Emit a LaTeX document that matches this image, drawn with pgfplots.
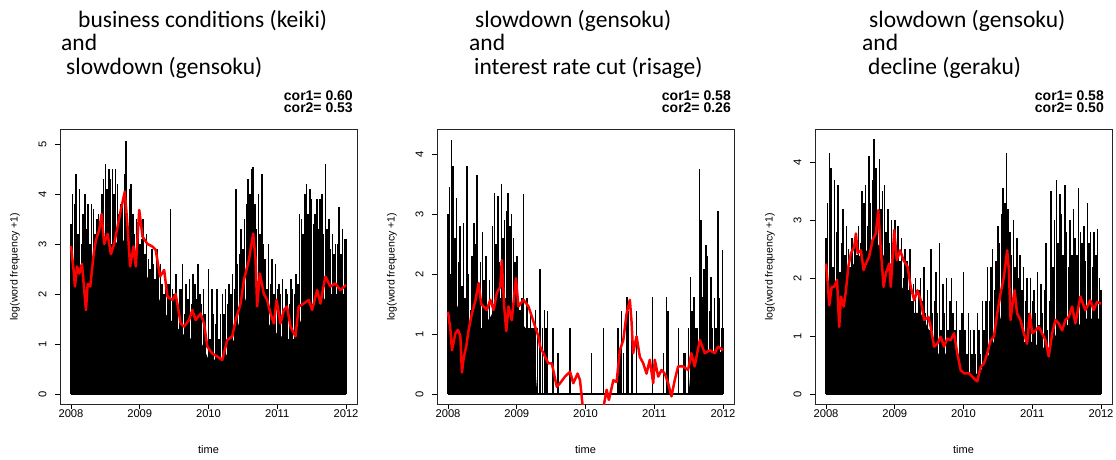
\documentclass[border=0pt]{standalone}
\usepackage{fontspec}
\setmainfont{Liberation Sans}
\newfontfamily\titlefont{Carlito}
\usepackage{pgfplots}
\usepackage{pgfplotstable}
\pgfplotsset{compat=1.18}

% x = week index (0.025 year steps): 0 = 2008, 160 = 2012
\pgfplotstableread[row sep=\\]{x y\\
0 2.4\\ 5 2.6\\ 10 2.4\\ 15 2.8\\ 20 3.0\\ 25 3.0\\ 30 3.1\\ 35 2.8\\ 40 2.6\\ 45 2.3\\ 50 2.0\\ 55 1.6\\ 60 1.4\\ 65 1.2\\ 70 1.1\\ 75 1.1\\ 80 0.69\\ 85 0.69\\ 90 0.75\\ 95 1.1\\ 100 1.7\\ 105 2.3\\ 110 2.0\\ 115 1.4\\ 120 1.2\\ 125 1.1\\ 130 1.1\\ 135 1.6\\ 140 1.8\\ 145 1.8\\ 150 2.0\\ 155 2.0\\ 160 2.0\\
}\coreA
\pgfplotstableread[row sep=\\]{x y\\
0 3.4\\ 1 4.0\\ 2 3.8\\ 3 4.4\\ 4 3.2\\ 5 4.1\\ 6 3.0\\ 7 3.6\\ 8 4.0\\ 9 3.3\\ 10 3.8\\ 11 3.0\\ 12 3.8\\ 13 3.7\\ 14 3.2\\ 15 3.5\\ 16 3.6\\ 17 3.4\\ 18 4.0\\ 19 4.3\\ 20 4.6\\ 21 4.1\\ 22 4.5\\ 23 4.3\\ 24 4.5\\ 25 4.0\\ 26 4.5\\ 27 4.2\\ 28 3.6\\ 29 3.8\\ 30 3.9\\ 31 4.4\\ 32 5.07\\ 33 3.5\\ 34 4.1\\ 35 4.2\\ 36 3.6\\ 37 3.2\\ 38 3.5\\ 39 3.3\\ 40 3.0\\
41 3.1\\ 42 3.5\\ 43 2.8\\ 44 3.2\\ 45 2.7\\ 46 2.5\\ 47 2.9\\ 48 2.6\\ 49 2.3\\ 50 2.9\\ 51 2.5\\ 52 2.6\\ 53 2.2\\ 54 2.0\\ 55 2.1\\ 56 2.2\\ 57 2.2\\ 58 3.7\\ 59 2.1\\ 60 2.0\\ 61 2.4\\ 62 1.9\\ 63 2.1\\ 64 2.1\\ 65 2.6\\ 66 1.6\\ 67 2.2\\ 68 1.9\\ 69 2.3\\ 70 1.8\\ 71 2.4\\ 72 2.2\\ 73 1.9\\ 74 2.6\\ 75 2.0\\ 76 1.8\\ 77 2.1\\ 78 1.6\\ 79 0.7\\ 80 2.5\\
81 1.1\\ 82 2.1\\ 83 1.6\\ 84 1.4\\ 85 2.1\\ 86 1.1\\ 87 1.6\\ 88 2.0\\ 89 1.6\\ 90 2.1\\ 91 1.8\\ 92 2.2\\ 93 2.0\\ 94 2.4\\ 95 2.1\\ 96 4.1\\ 97 2.6\\ 98 2.8\\ 99 3.3\\ 100 2.9\\ 101 3.5\\ 102 3.8\\ 103 4.3\\ 104 4.0\\ 105 4.5\\ 106 4.55\\ 107 3.8\\ 108 3.3\\ 109 4.0\\ 110 3.2\\ 111 4.4\\ 112 3.0\\ 113 2.7\\ 114 2.1\\ 115 3.0\\ 116 2.2\\ 117 2.7\\ 118 2.0\\ 119 2.6\\ 120 2.1\\
121 2.2\\ 122 2.0\\ 123 2.3\\ 124 1.7\\ 125 2.1\\ 126 2.0\\ 127 1.8\\ 128 2.3\\ 129 2.1\\ 130 2.0\\ 131 2.4\\ 132 2.2\\ 133 3.6\\ 134 3.5\\ 135 3.2\\ 136 4.0\\ 137 4.2\\ 138 3.6\\ 139 4.1\\ 140 3.9\\ 141 3.4\\ 142 3.6\\ 143 3.9\\ 144 3.3\\ 145 3.9\\ 146 4.0\\ 147 3.2\\ 148 4.6\\ 149 3.3\\ 150 3.5\\ 151 2.9\\ 152 3.2\\ 153 2.8\\ 154 3.0\\ 155 3.0\\ 156 3.75\\ 157 2.8\\ 158 3.3\\ 159 3.1\\ 160 3.1\\
}\spikeA
\pgfplotstableread[row sep=\\]{x y\\
0 2.96\\ 1.5 2.48\\ 2.3 2.15\\ 3.5 2.55\\ 4.8 2.41\\ 6.4 2.6\\ 7.7 2.08\\ 8.7 1.68\\ 9.7 2.2\\ 11.2 2.15\\ 13.2 2.8\\ 14.5 3.08\\ 16.4 3.28\\ 17.8 3.6\\ 19.3 3.0\\ 21.3 3.2\\ 23.2 2.8\\ 25.1 3.0\\ 27.1 3.35\\ 29 3.68\\ 31.3 4.05\\ 32.9 3.35\\ 34.4 2.55\\ 36.4 2.95\\ 37.7 2.55\\ 39.7 3.68\\ 41.6 3.15\\ 44.5 3.0\\ 47.4 2.95\\ 49.3 2.88\\ 51.8 2.35\\ 54.2 2.48\\ 56.1 1.95\\ 59 1.88\\ 60.9 2.0\\ 63.8 1.41\\ 65.8 1.35\\ 68.7 1.48\\ 70.6 1.68\\ 72.5 1.48\\ 75.4 1.61\\ 77.4 1.41\\ 79.3 0.95\\ 82.2 0.81\\ 85.1 0.75\\ 88 0.68\\ 90.9 1.08\\ 93.8 1.15\\ 95.8 1.48\\ 98.7 1.81\\ 100.6 2.28\\ 103.5 2.68\\ 106 3.21\\ 107.4 2.68\\ 108.3 1.75\\ 109.9 2.41\\ 112.2 2.0\\ 114.1 1.88\\ 116.1 1.61\\ 118 1.41\\ 119.6 1.88\\ 121.9 1.41\\ 123.8 1.68\\ 125.7 1.75\\ 127.7 1.35\\ 130.6 1.15\\ 132.5 1.75\\ 135.4 1.81\\ 138.3 1.88\\ 140.3 1.68\\ 143.2 2.08\\ 145.1 1.81\\ 148 2.35\\ 150.9 2.15\\ 153.8 2.21\\ 156.7 2.08\\ 160 2.18\\
}\redA

\pgfplotstableread[row sep=\\]{x y\\
0 2.0\\ 3 2.0\\ 5 1.5\\ 10 1.1\\ 15 1.1\\ 20 1.1\\ 25 1.3\\ 30 1.6\\ 35 1.6\\ 40 1.3\\ 45 1.1\\ 48 0.9\\ 50 0.7\\ 52 0\\ 140 0\\ 142 0.7\\ 160 0.7\\
}\coreB
\pgfplotstableread[row sep=\\]{x y\\
0 3.0\\ 1 3.45\\ 2 4.23\\ 3 3.8\\ 4 2.6\\ 5 3.26\\ 6 2.2\\ 7 2.8\\ 8 1.8\\ 9 2.85\\ 10 1.6\\ 11 3.8\\ 12 2.0\\ 13 1.4\\ 14 2.3\\ 15 2.85\\ 16 2.5\\ 17 3.65\\ 18 1.8\\ 19 2.2\\ 20 2.7\\ 21 1.9\\ 22 2.3\\ 23 1.4\\ 24 1.9\\ 25 1.1\\ 26 2.8\\ 27 3.35\\ 28 2.5\\ 29 3.3\\ 30 2.2\\ 31 3.5\\ 32 2.6\\ 33 2.9\\ 34 3.05\\ 35 3.35\\ 36 2.8\\ 37 3.0\\ 38 2.6\\ 39 2.2\\ 40 2.3\\
41 1.6\\ 42 1.4\\ 43 1.6\\ 44 3.33\\ 45 1.1\\ 46 1.6\\ 47 1.1\\ 48 1.4\\ 49 1.1\\ 50 1.1\\ 51 1.4\\ 52 1.1\\ 53.4 2.08\\ 55 1.1\\ 56 1.4\\ 57 1.1\\ 58 1.39\\ 61 1.1\\ 64 0.69\\ 71 1.1\\ 83.6 0.69\\ 90.5 1.1\\ 99 1.1\\ 100 0.69\\ 101 1.39\\ 102 0.69\\ 104 1.61\\ 105 1.39\\ 107 1.1\\ 109.6 1.39\\ 119 1.61\\ 125.4 0.69\\ 127 1.61\\ 128 1.39\\ 134 1.1\\ 137 0.69\\ 138 0.69\\ 140 1.1\\ 141 1.95\\ 142 1.39\\ 143 1.61\\ 144 1.1\\ 145 1.1\\ 146.4 3.75\\ 147.2 2.9\\ 148 1.61\\ 149 2.08\\ 150 2.48\\ 151 2.3\\ 152 1.39\\ 153 1.95\\ 154 1.1\\ 155 1.6\\ 156 1.1\\ 157 3.05\\ 158 1.6\\ 159 1.1\\ 159.6 2.4\\ 160 1.1\\
}\spikeB
\pgfplotstableread[row sep=\\]{x y\\
0 1.37\\ 1.4 1.07\\ 2.3 0.73\\ 4.3 1.01\\ 5.8 1.07\\ 7.2 0.96\\ 8.1 0.36\\ 9.1 0.6\\ 10.6 0.79\\ 12 1.07\\ 13.9 1.34\\ 15.9 1.55\\ 17.8 1.85\\ 19.3 1.5\\ 20.7 1.46\\ 22.6 1.4\\ 24.6 1.57\\ 26.5 1.4\\ 28.4 1.68\\ 30.4 1.79\\ 31.3 2.23\\ 32.7 1.46\\ 33.9 1.05\\ 35.2 1.46\\ 37.1 1.23\\ 39.5 1.93\\ 41 1.46\\ 43.9 1.57\\ 46.8 1.46\\ 48.8 1.29\\ 50.7 1.12\\ 52.6 0.96\\ 53.6 0.79\\ 56.5 0.62\\ 58.4 0.51\\ 60.4 0.51\\ 63.3 0.12\\ 65.2 0.18\\ 68.1 0.29\\ 71 0.37\\ 72.9 0.18\\ 75.4 0.34\\ 76.8 0.23\\ 78.2 -0.16\\ 79.7 -0.5\\ 89.4 -0.4\\ 90.7 -0.18\\ 92.3 0.07\\ 93.6 -0.1\\ 96.2 0.23\\ 98.1 0.2\\ 100 0.73\\ 102 0.9\\ 103.9 1.34\\ 105.8 1.57\\ 106.8 1.2\\ 107.7 0.68\\ 109.7 0.96\\ 111.6 0.62\\ 113.6 0.51\\ 115.5 0.34\\ 117.4 0.57\\ 119.4 0.18\\ 120.3 0.57\\ 122.3 0.29\\ 124.2 0.4\\ 126.1 0.34\\ 128.1 0.18\\ 130 -0.04\\ 131.9 0.23\\ 133.9 0.46\\ 136.8 0.46\\ 139.7 0.4\\ 141.6 0.68\\ 143.5 0.46\\ 146.5 0.9\\ 149.4 0.68\\ 152.3 0.73\\ 155.2 0.68\\ 157.1 0.79\\ 160 0.73\\
}\redB

\pgfplotstableread[row sep=\\]{x y\\
0 1.9\\ 5 1.9\\ 10 1.8\\ 15 2.2\\ 20 2.4\\ 25 2.5\\ 30 2.6\\ 35 2.3\\ 40 2.1\\ 45 1.8\\ 50 1.4\\ 55 1.4\\ 60 1.1\\ 65 0.7\\ 70 0.7\\ 75 0.7\\ 80 0.4\\ 85 0.3\\ 90 0.4\\ 95 0.7\\ 100 1.1\\ 105 1.8\\ 110 1.4\\ 115 0.9\\ 120 0.9\\ 125 0.8\\ 130 0.8\\ 135 1.1\\ 140 1.2\\ 145 1.1\\ 150 1.3\\ 155 1.3\\ 160 1.3\\
}\coreC
\pgfplotstableread[row sep=\\]{x y\\
0 2.7\\ 1 3.3\\ 2 4.15\\ 3 3.9\\ 4 2.2\\ 5 3.7\\ 6 2.8\\ 7 3.6\\ 8 2.1\\ 9 2.6\\ 10 3.2\\ 11 2.4\\ 12 2.9\\ 13 2.5\\ 14 2.2\\ 15 2.7\\ 16 2.1\\ 17 2.6\\ 18 2.4\\ 19 2.9\\ 20 2.6\\ 21 3.5\\ 22 3.3\\ 23 3.6\\ 24 2.9\\ 25 4.1\\ 26 3.3\\ 27 3.7\\ 28 4.4\\ 29 3.9\\ 30 3.1\\ 31 4.05\\ 32 3.2\\ 33 3.5\\ 34 3.6\\ 35 2.8\\ 36 3.2\\ 37 2.6\\ 38 3.0\\ 39 2.5\\ 40 3.0\\
41 2.4\\ 42 2.9\\ 43 2.3\\ 44 2.7\\ 45 2.0\\ 46 2.5\\ 47 2.3\\ 48 1.8\\ 49 2.5\\ 50 1.6\\ 51 1.9\\ 52 2.0\\ 53 1.4\\ 54 1.8\\ 55 2.0\\ 56 1.6\\ 57 2.2\\ 58 1.4\\ 59 1.8\\ 60 1.1\\ 61 2.5\\ 62 1.4\\ 63 1.6\\ 64 2.1\\ 65 1.4\\ 66 2.6\\ 67 1.1\\ 68 1.9\\ 69 1.4\\ 70 2.0\\ 71 1.1\\ 72 1.6\\ 73 2.0\\ 74 1.4\\ 75 1.1\\ 76 1.6\\ 77 0.7\\ 78 1.1\\ 79 1.4\\ 80 2.1\\
81 1.1\\ 82 0.7\\ 83 1.4\\ 84 1.1\\ 85 0.7\\ 86 1.1\\ 87 0.7\\ 88 1.4\\ 89 1.1\\ 90 0.7\\ 91 1.6\\ 92 1.1\\ 93 1.6\\ 94 2.2\\ 95 1.6\\ 96 2.2\\ 97 2.5\\ 98 1.8\\ 99 2.3\\ 100 2.9\\ 101 2.6\\ 102 3.1\\ 103 3.55\\ 104 3.3\\ 105 4.15\\ 106 3.2\\ 107 2.8\\ 108 2.4\\ 109 3.0\\ 110 2.2\\ 111 2.7\\ 112 2.0\\ 113 2.4\\ 114 1.8\\ 115 2.2\\ 116 1.6\\ 117 2.0\\ 118 1.4\\ 119 2.0\\ 120 1.6\\
121 1.8\\ 122 1.4\\ 123 2.1\\ 124 1.2\\ 125 1.9\\ 126 1.4\\ 127 1.8\\ 128 2.6\\ 129 1.1\\ 130 1.6\\ 131 3.5\\ 132 2.2\\ 133 3.0\\ 134 3.7\\ 135 2.6\\ 136 3.45\\ 137 3.1\\ 138 2.4\\ 139 3.6\\ 140 2.8\\ 141 2.2\\ 142 3.0\\ 143 2.4\\ 144 3.2\\ 145 2.7\\ 146 2.4\\ 147 3.55\\ 148 2.8\\ 149 2.6\\ 150 2.9\\ 151 2.3\\ 152 3.3\\ 153 2.6\\ 154 2.8\\ 155 2.2\\ 156 2.8\\ 157 2.4\\ 158 2.85\\ 159 2.0\\ 160 1.8\\
}\spikeC
\pgfplotstableread[row sep=\\]{x y\\
0 2.25\\ 1 1.91\\ 1.9 1.53\\ 3.3 1.85\\ 4.8 1.85\\ 6.4 1.97\\ 7.7 1.16\\ 8.7 1.68\\ 10.3 1.51\\ 11.6 1.79\\ 13 2.2\\ 14.5 2.43\\ 16.4 2.54\\ 17.4 2.77\\ 18.4 2.43\\ 20.3 2.48\\ 21.9 2.14\\ 23.2 2.25\\ 25.1 2.37\\ 27.1 2.66\\ 29 2.77\\ 30.4 3.17\\ 31.9 2.48\\ 33.5 1.85\\ 34.8 2.08\\ 36.8 2.25\\ 37.7 1.85\\ 39.7 2.83\\ 41.2 2.31\\ 43.1 2.48\\ 45.1 2.31\\ 47.4 2.2\\ 49.3 1.85\\ 51.3 1.62\\ 53.2 1.79\\ 55.1 1.62\\ 57.1 1.28\\ 59.6 1.33\\ 60.9 1.16\\ 62.9 0.82\\ 64.8 0.87\\ 66.7 0.99\\ 68.7 0.82\\ 70.6 0.96\\ 72.5 0.93\\ 74.5 1.05\\ 76.4 0.70\\ 78.4 0.41\\ 80.3 0.36\\ 83.2 0.36\\ 85.1 0.30\\ 87.1 0.24\\ 88 0.22\\ 90 0.47\\ 91.9 0.53\\ 93.8 0.70\\ 95.8 0.93\\ 97.7 0.99\\ 99.6 1.39\\ 101.6 1.74\\ 103.5 2.02\\ 105.4 2.48\\ 106.4 2.14\\ 107.4 1.28\\ 108.3 1.51\\ 109.7 1.79\\ 111.2 1.39\\ 113.1 1.28\\ 115.1 1.05\\ 117 0.87\\ 118.6 1.39\\ 119.9 1.05\\ 121.9 1.10\\ 123.8 1.16\\ 125.7 1.05\\ 127.7 0.93\\ 129.6 0.65\\ 131.6 1.05\\ 133.5 1.28\\ 135.4 1.22\\ 137.4 1.10\\ 139.3 1.28\\ 141.2 1.33\\ 143.2 1.51\\ 145.1 1.22\\ 148 1.68\\ 150.9 1.45\\ 153.8 1.62\\ 155.7 1.45\\ 157.7 1.59\\ 160 1.56\\
}\redC

\newcommand\tickfont{\fontsize{11.2}{13}\selectfont}
\pgfplotsset{
  rpanel/.style={
    scale only axis, width=297pt, height=275pt,
    anchor=south west,
    xmin=-6.4, xmax=166.4,
    xtick={0,40,80,120,160},
    xticklabels={2008,2009,2010,2011,2012},
    xtick pos=bottom, ytick pos=left,
    tick align=outside, major tick length=5pt,
    tick style={black, line width=0.6pt},
    axis line style={black!85, line width=0.8pt},
    /pgf/number format/assume math mode=true,
    every tick label/.append style={font=\tickfont},
    yticklabel style={rotate=90, anchor=south},
    yticklabel shift=5pt,
    xticklabel shift=-2.5pt,
    xlabel={time}, ylabel={log(word frequency +1)},
    xlabel style={font=\fontsize{11}{13}\selectfont, at={(axis description cs:0.5,0)}, anchor=base, yshift=-49pt},
    ylabel style={font=\fontsize{10.5}{12}\selectfont, at={(axis description cs:0,0.5)}, anchor=center, yshift=45pt},
  },
  spikes/.style={ycomb, black, line width=1.5pt, mark=none},
  core/.style={fill=black, draw=none, mark=none},
  smooth red/.style={red, line width=2.5pt, line join=round, mark=none},
}

\begin{document}
\begin{tikzpicture}
\path[use as bounding box] (0,0) rectangle (1116pt,-459pt);

% panel 1
\begin{axis}[rpanel, at={(60pt,-404pt)}, ymin=-0.2, ymax=5.3, ytick={0,1,2,3,4,5}]
\addplot[core] table {\coreA} \closedcycle;
\addplot[spikes] table {\spikeA};
\addplot[black, line width=1.2pt] coordinates {(0,0) (160,0)};
\addplot[smooth red] table {\redA};
\end{axis}

% panel 2
\begin{axis}[rpanel, at={(437pt,-404pt)}, ymin=-0.167, ymax=4.417, ytick={0,1,2,3,4}]
\addplot[core] table {\coreB} \closedcycle;
\addplot[spikes] table {\spikeB};
\addplot[black, line width=1.6pt] coordinates {(0,0) (160,0)};
\addplot[smooth red] table {\redB};
\end{axis}

% panel 3
\begin{axis}[rpanel, at={(815pt,-404pt)}, ymin=-0.17, ymax=4.571, ytick={0,1,2,3,4}]
\addplot[core] table {\coreC} \closedcycle;
\addplot[spikes] table {\spikeC};
\addplot[black, line width=1.2pt] coordinates {(0,0) (160,0)};
\addplot[smooth red] table {\redC};
\end{axis}

% titles
\begin{scope}[every node/.style={inner sep=0pt, anchor=base west, font=\titlefont\fontsize{23.5}{24}\selectfont}]
\node at (78pt,-27pt) {business conditions (keiki)};
\node at (61pt,-50pt) {and};
\node at (66pt,-74pt) {slowdown (gensoku)};
\node at (475pt,-27pt) {slowdown (gensoku)};
\node at (469pt,-50pt) {and};
\node at (474pt,-74pt) {interest rate cut (risage)};
\node at (869pt,-27pt) {slowdown (gensoku)};
\node at (862pt,-50pt) {and};
\node at (868pt,-74pt) {decline (geraku)};
\end{scope}
\begin{scope}[every node/.style={inner sep=0pt, anchor=base east, font=\bfseries\fontsize{14}{14}\selectfont}]
\node at (353pt,-100pt) {cor1= 0.60};
\node at (353pt,-112pt) {cor2= 0.53};
\node at (731pt,-100pt) {cor1= 0.58};
\node at (731pt,-112pt) {cor2= 0.26};
\node at (1104pt,-100pt) {cor1= 0.58};
\node at (1104pt,-112pt) {cor2= 0.50};
\end{scope}
\end{tikzpicture}
\end{document}
